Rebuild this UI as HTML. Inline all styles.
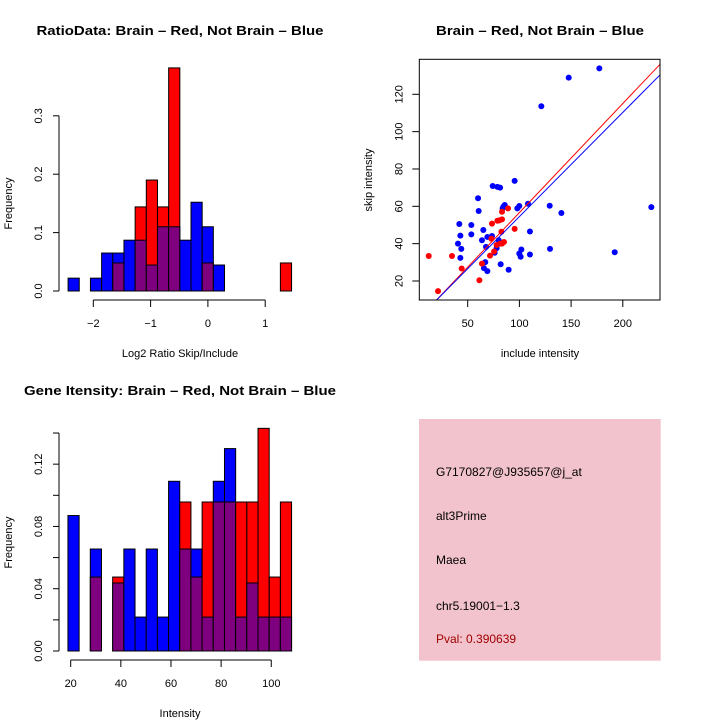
<!DOCTYPE html>
<html><head><meta charset="utf-8"><style>
body{margin:0;background:#fff}
svg{display:block;font-family:"Liberation Sans",sans-serif}
</style></head><body>
<svg id="s" width="720" height="720" viewBox="0 0 720 720"></svg>
<script>
// ---- Ratio histogram data ----
const ratioBinStart = -2.44;
const ratioBinWidth = 0.195;
const ratioBlue = [0.022,0,0.022,0.065,0.065,0.087,0.087,0.0445,0.11,0.11,0.087,0.152,0.11,0.0445,0,0,0,0,0,0];
const ratioRed  = [0,0,0,0,0.048,0,0.144,0.19,0.144,0.382,0,0,0.048,0,0,0,0,0,0,0.048];
const ratioXTicks = [-2,-1,0,1];
const ratioYTicks = [0.0,0.1,0.2,0.3];
// ---- Intensity histogram data ----
const intBinStart = 18.9;
const intBinWidth = 4.46;
const intBlue = [0.087,0,0.0655,0,0.0437,0.0655,0.0218,0.0655,0.0218,0.109,0.0655,0.0655,0.0218,0.109,0.130,0.0218,0.0437,0.0218,0.0218,0.0218];
const intRed  = [0,0,0.0475,0,0.0475,0,0,0,0,0,0.0957,0.0475,0.0957,0.0957,0.0957,0.0957,0.0957,0.143,0.0475,0.0957];
const intXTicks = [20,40,60,80,100];
const intYTicks = [0.00,0.04,0.08,0.12];
// ---- Scatter data ----
const blueInclude = [177.3,147.7,121.2,95.4,74.2,78.7,81.3,60.0,60.6,85.8,83.8,98.0,99.9,108.3,129.3,140.6,227.6,41.9,53.5,42.9,53.5,65.1,63.8,69.0,73.5,80.0,40.6,43.8,67.7,78.0,76.1,42.9,99.9,101.2,101.9,110.2,110.2,129.6,192.2,67.0,81.9,65.7,69.0,89.6,84.5];
const blueSkip    = [133.9,128.9,113.6,73.6,70.9,70.4,70.0,64.3,57.5,60.7,58.9,58.9,60.2,61.4,60.3,56.4,59.6,50.5,50.0,44.3,45.0,47.3,41.8,43.6,44.1,41.8,40.0,37.2,38.3,37.6,35.1,32.4,34.7,33.0,36.9,46.5,34.2,37.2,35.4,30.1,29.0,26.9,25.3,26.0,59.8];
const redInclude  = [12.3,21.3,34.8,44.2,61.3,63.8,71.6,73.5,80.6,83.2,78.7,82.6,83.2,89.0,95.4,85.1,83.2,81.3,78.0,75.5,72.9];
const redSkip     = [33.4,14.6,33.4,26.7,20.4,29.3,33.6,50.7,52.5,53.0,52.3,46.4,57.1,58.9,47.9,40.9,40.0,40.0,39.3,35.8,42.6];
const redFit  = [-1.75,0.584]; // intercept, slope
const blueFit = [-1.3,0.558];
const scXTicks = [50,100,150,200];
const scYTicks = [20,40,60,80,100,120];

const NS="http://www.w3.org/2000/svg";
const svg=document.getElementById('s');
function el(tag,attrs,parent){const e=document.createElementNS(NS,tag);for(const k in attrs)e.setAttribute(k,attrs[k]);(parent||svg).appendChild(e);return e;}
function txt(x,y,s,o,parent){o=o||{};const t=el('text',{x:x,y:y,'font-size':o.size||11,'text-anchor':o.anchor||'middle',fill:o.fill||'#000'},parent);if(o.bold)t.setAttribute('font-weight','bold');if(o.rot)t.setAttribute('transform','rotate(-90 '+x+' '+y+')');if(o.len){t.setAttribute('textLength',o.len);t.setAttribute('lengthAdjust','spacingAndGlyphs');}t.textContent=s;return t;}
function fmt(v){return String(v).replace('-','\u2212');}

function hist(cfg){
  const g=el('g',{});
  
  
  const X=v=>cfg.x0+(v-cfg.xv0)*cfg.xs, Y=v=>cfg.base-v*cfg.ys;
  const n=cfg.blue.length;
  for(let i=0;i<n;i++){
    const l=X(cfg.start+i*cfg.w), r=X(cfg.start+(i+1)*cfg.w);
    const b=cfg.blue[i], rd=cfg.red[i];
    const draw=(v,c,nm)=>{if(v<=0)return;const rc=el('rect',{x:l,y:Y(v),width:r-l,height:cfg.base-Y(v),fill:c,stroke:'#000','stroke-width':1},g);};
    if(b>=rd){draw(b,'#0000ff','bar-blue-'+i);draw(rd,'#7f007f','bar-overlap-'+i);}
    else{draw(rd,'#ff0000','bar-red-'+i);draw(b,'#7f007f','bar-overlap-'+i);}
  }
  const ya=el('g',{},g);
  
  
  const yt=cfg.yticks;
  el('line',{x1:cfg.yax,x2:cfg.yax,y1:Y(yt[0]),y2:Y(cfg.ytop),stroke:'#000'},ya);
  const ticksY=yt.concat(cfg.yextra||[]);
  ticksY.forEach(v=>el('line',{x1:cfg.yax-6,x2:cfg.yax,y1:Y(v),y2:Y(v),stroke:'#000'},ya));
  yt.forEach(v=>txt(cfg.yax-17,Y(v),v.toFixed(cfg.ydec),{rot:1,size:11},ya));
  txt(12,cfg.base-(cfg.base-cfg.top)/2,'Frequency',{rot:1,size:11},ya);
  const xa=el('g',{},g);
  
  
  const xt=cfg.xticks;
  el('line',{x1:X(xt[0]),x2:X(xt[xt.length-1]),y1:cfg.xax,y2:cfg.xax,stroke:'#000'},xa);
  xt.forEach(v=>{el('line',{x1:X(v),x2:X(v),y1:cfg.xax,y2:cfg.xax+7,stroke:'#000'},xa);txt(X(v),cfg.xax+27,fmt(v),{size:11},xa);});
  txt(cfg.xlabx,cfg.xlaby,cfg.xlab,{size:11},xa);
  const t=txt(180,cfg.titley,cfg.title,{bold:1,size:13,len:cfg.titlelen},g);
  
  
}

hist({name:'ratio-histogram',blue:ratioBlue,red:ratioRed,start:ratioBinStart,w:ratioBinWidth,
  x0:93.3,xv0:-2,xs:57.3,base:291,ys:584,yticks:ratioYTicks,ytop:0.3,ydec:1,yax:59,top:116,
  xticks:ratioXTicks,xax:300,xlab:'Log2 Ratio Skip/Include',xlabx:180,xlaby:357,
  title:'RatioData: Brain \u2013 Red, Not Brain \u2013 Blue',titley:35,titlelen:287});
hist({name:'intensity-histogram',blue:intBlue,red:intRed,start:intBinStart,w:intBinWidth,
  x0:70.7,xv0:20,xs:2.507,base:651,ys:1557,yticks:intYTicks,yextra:[0.02,0.06,0.10,0.14],ytop:0.14,ydec:2,yax:59,top:434,
  xticks:intXTicks,xax:660,xlab:'Intensity',xlabx:180,xlaby:717,
  title:'Gene Itensity: Brain \u2013 Red, Not Brain \u2013 Blue',titley:395,titlelen:312});

(function(){
  const g=el('g',{});
  
  
  const L=419.3,R=660,T=59.3,B=300;
  const X=v=>467.7+(v-50)*1.034, Y=v=>281-(v-20)*1.867;
  const cp=el('clipPath',{id:'clp'},g);el('rect',{x:L,y:T,width:R-L,height:B-T},cp);
  const xmin=(L-467.7)/1.034+50, xmax=(R-467.7)/1.034+50;
  const fit=(f,c,nm)=>{const ln=el('line',{x1:X(xmin),y1:Y(f[0]+f[1]*xmin),x2:X(xmax),y2:Y(f[0]+f[1]*xmax),stroke:c,'stroke-width':1,'clip-path':'url(#clp)'},g);};
  blueInclude.forEach((v,i)=>{const c=el('circle',{cx:X(v),cy:Y(blueSkip[i]),r:3,fill:'#0000ff'},g);});
  redInclude.forEach((v,i)=>{const c=el('circle',{cx:X(v),cy:Y(redSkip[i]),r:3,fill:'#ff0000'},g);});
  fit(redFit,'#ff0000','fit-line-brain');
  fit(blueFit,'#0000ff','fit-line-not-brain');
  el('rect',{x:L,y:T,width:R-L,height:B-T,fill:'none',stroke:'#000'},g);
  scXTicks.forEach(v=>{el('line',{x1:X(v),x2:X(v),y1:B,y2:B+7,stroke:'#000'},g);txt(X(v),B+27,String(v),{size:11},g);});
  scYTicks.forEach(v=>{el('line',{x1:L-7,x2:L,y1:Y(v),y2:Y(v),stroke:'#000'},g);txt(L-17,Y(v),String(v),{rot:1,size:11},g);});
  txt(540,357,'include intensity',{size:11},g);
  txt(372,180,'skip intensity',{rot:1,size:11},g);
  const t=txt(540,35,'Brain \u2013 Red, Not Brain \u2013 Blue',{bold:1,size:13,len:208},g);
  
  
})();

(function(){
  const g=el('g',{});
  
  
  el('rect',{x:419,y:419,width:241.7,height:241.7,fill:'#f2c3cc'},g);
  const lines=[['G7170827@J935657@j_at',476,'#000'],['alt3Prime',520,'#000'],['Maea',564,'#000'],['chr5.19001\u22121.3',610,'#000'],['Pval: 0.390639',643,'#a00000']];
  lines.forEach(l=>{const t=txt(436,l[1],l[0],{anchor:'start',size:12,fill:l[2]},g);});
})();
</script>
</body></html>
